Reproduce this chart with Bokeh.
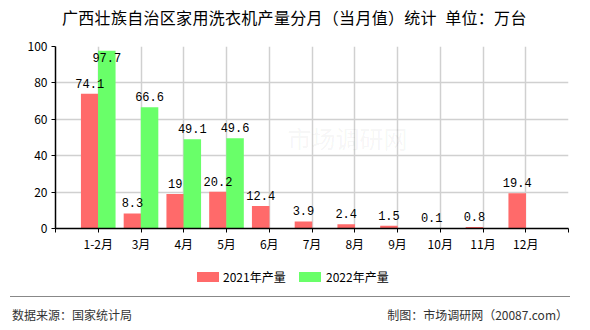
from bokeh.plotting import figure
from bokeh.models import (ColumnDataSource, FixedTicker, Label, Range1d, Div)
from bokeh.layouts import column
from bokeh.core.properties import value
from bokeh.embed import file_html
from bokeh.resources import INLINE

title_text = "广西壮族自治区家用洗衣机产量分月（当月值）统计\u2002单位：万台"
categories = ["1-2月", "3月", "4月", "5月", "6月", "7月", "8月", "9月", "10月", "11月", "12月"]
v2021 = [74.1, 8.3, 19, 20.2, 12.4, 3.9, 2.4, 1.5, 0.1, 0.8, 19.4]
v2022 = [97.7, 66.6, 49.1, 49.6]
y_ticks = [0, 20, 40, 60, 80, 100]
series_names = ["2021年产量", "2022年产量"]
source_text = "数据来源：国家统计局"
credit_text = "制图：市场调研网（20087.com）"

RED = "#FF6A6A"
GREEN = "#69FF69"
FONT_CJK = "Noto Sans CJK SC"
FONT_NUM = "Liberation Mono"

idx = list(range(1, len(categories) + 1))
s21 = ColumnDataSource(dict(x=[i - 0.2 for i in idx], top=v2021,
                            ly=[min(v, 88) for v in v2021],
                            lab=[("%g" % v) for v in v2021]))
idx22 = idx[:len(v2022)]
s22 = ColumnDataSource(dict(x=[i + 0.2 for i in idx22], top=v2022,
                            ly=[min(v, 88) for v in v2022],
                            lab=[("%g" % v) for v in v2022]))

fs = "font-family:Noto Sans CJK SC;white-space:nowrap;position:absolute;"

# ---------------- title (HTML) ----------------
title_div = Div(width=590, height=30, margin=(0, 0, 0, 0),
                text=("<div style='position:relative;width:590px;height:30px;margin:0;padding:0;'>"
                      f"<div style='{fs}left:62px;top:8px;font-size:16px;line-height:18px;"
                      f"letter-spacing:0.3px;color:#000000;'>{title_text}</div></div>"))

# ---------------- main chart ----------------
p = figure(width=590, height=224, output_backend="svg", toolbar_location=None,
           x_range=Range1d(0, len(categories) + 1), y_range=Range1d(0, 100),
           min_border_left=55, min_border_right=22, min_border_top=16, min_border_bottom=25)
p.outline_line_color = None
p.background_fill_color = "white"

p.vbar(x="x", top="top", width=0.41, source=s21, fill_color=RED, line_color=None)
p.vbar(x="x", top="top", width=0.41, source=s22, fill_color=GREEN, line_color=None)

for s in (s21, s22):
    p.text(x="x", y="ly", text="lab", source=s, text_align="center", text_baseline="bottom",
           y_offset=-6, text_font=value(FONT_NUM), text_font_size="12px", text_color="#000000")

p.xaxis.ticker = FixedTicker(ticks=list(range(0, len(categories) + 2)))
overrides = {0: "", len(categories) + 1: ""}
for i, c in zip(idx, categories):
    overrides[i] = c
p.xaxis.major_label_overrides = overrides
p.yaxis.ticker = FixedTicker(ticks=y_ticks)
for ax in (p.xaxis[0], p.yaxis[0]):
    ax.axis_line_color = "#000000"
    ax.axis_line_width = 1.5
    ax.major_tick_line_color = "#000000"
    ax.major_tick_out = 4
    ax.major_tick_in = 0
    ax.minor_tick_line_color = None
    ax.major_label_text_font = FONT_CJK
    ax.major_label_text_font_size = "12px"
    ax.major_label_text_color = "#000000"
p.xaxis.major_label_standoff = 2
p.yaxis.major_label_standoff = 4

p.xgrid.ticker = FixedTicker(ticks=list(range(1, len(categories) + 2)))
p.xgrid.grid_line_color = "#D0D0D0"
p.xgrid.grid_line_width = 1.5
p.ygrid.grid_line_color = "#D0D0D0"
p.ygrid.grid_line_width = 1.5

p.add_layout(Label(x=232, y=91, x_units="screen", y_units="screen", text="市场调研网",
                   text_font=FONT_CJK, text_font_size="24px", text_color="#000000", text_alpha=0.05,
                   text_baseline="middle"))

# ---------------- legend + footer (HTML) ----------------
html = (
    "<div style='position:relative;width:590px;height:76px;margin:0;padding:0;'>"
    f"<div style='position:absolute;left:197px;top:18px;width:22px;height:10px;background:{RED};'></div>"
    f"<div style='{fs}left:223px;top:15px;font-size:12px;line-height:16px;color:#000000;'>{series_names[0]}</div>"
    f"<div style='position:absolute;left:299px;top:18px;width:22px;height:10px;background:{GREEN};'></div>"
    f"<div style='{fs}left:326px;top:15px;font-size:12px;line-height:16px;color:#000000;'>{series_names[1]}</div>"
    "<div style='position:absolute;left:10px;top:42px;width:560px;height:0;border-top:1.5px solid #888888;'></div>"
    f"<div style='{fs}left:12px;top:53px;font-size:12px;line-height:16px;color:#333333;'>{source_text}</div>"
    f"<div style='{fs}right:22px;top:53px;font-size:12px;line-height:16px;color:#333333;'>{credit_text}</div>"
    "</div>"
)
footer = Div(text=html, width=590, height=76, margin=(0, 0, 0, 0))

open("out.html", "w").write(file_html(column(title_div, p, footer, spacing=0), INLINE))
